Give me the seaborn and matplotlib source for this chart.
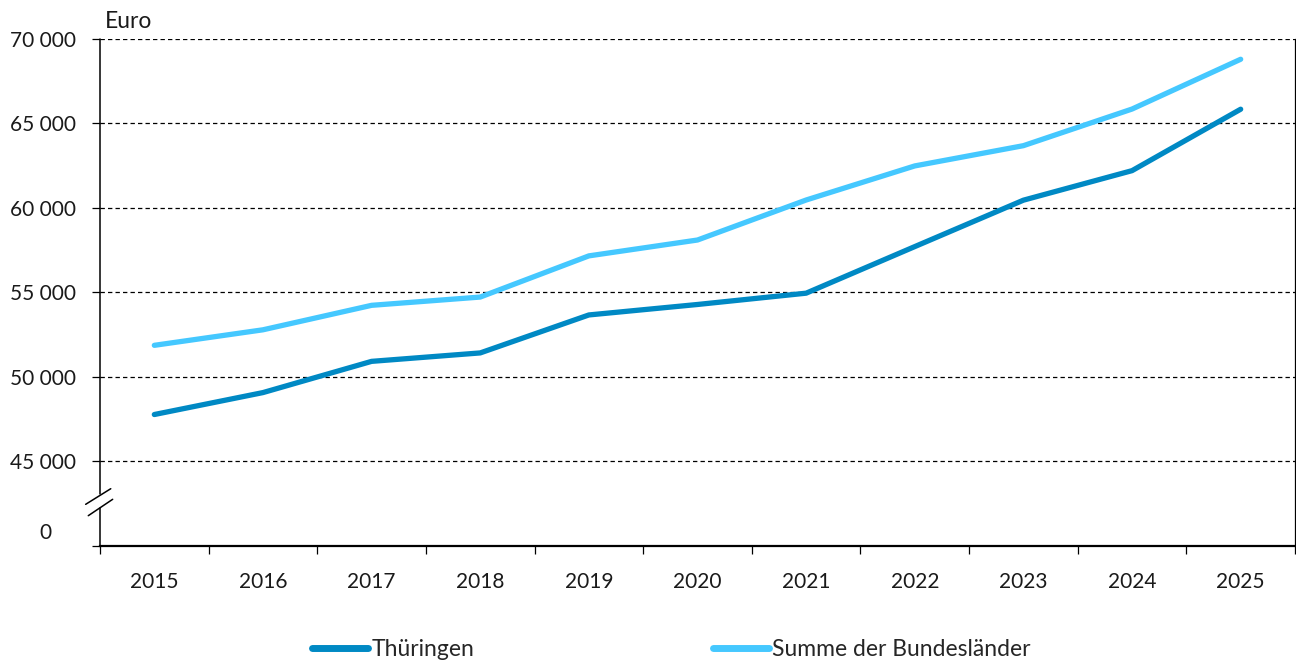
import matplotlib
matplotlib.use("Agg")
import matplotlib.pyplot as plt
from matplotlib.lines import Line2D
from matplotlib.ticker import FixedLocator, NullFormatter
import seaborn as sns
import pandas as pd
import numpy as np

years = [2015, 2016, 2017, 2018, 2019, 2020, 2021, 2022, 2023, 2024, 2025]
thueringen = [47750, 49050, 50900, 51400, 53650, 54270, 54940, 57700, 60450, 62200, 65840]
summe = [51850, 52770, 54220, 54710, 57150, 58090, 60460, 62480, 63680, 65850, 68800]
series_names = ["Thüringen", "Summe der Bundesländer"]
colors = ["#0089C4", "#45C8FF"]
ytick_values = [45000, 50000, 55000, 60000, 65000, 70000]
ytick_labels = ["45 000", "50 000", "55 000", "60 000", "65 000", "70 000"]
unit_label = "Euro"
zero_label = "0"

sns.set_theme(style="white")
plt.rcParams["font.family"] = ["Lato", "DejaVu Sans"]

df = pd.DataFrame({
    "Jahr": years * 2,
    "Wert": thueringen + summe,
    "Reihe": [series_names[0]] * len(years) + [series_names[1]] * len(years),
})

TICK_FS = 15
TEXT_FS = 16.5
TXT_COLOR = "#1a1a1a"

W, H = 1296, 664
fig = plt.figure(figsize=(W / 100, H / 100), dpi=100)
ax = fig.add_axes([100 / W, (H - 546) / H, 1195 / W, (546 - 39) / H])

sns.lineplot(data=df, x="Jahr", y="Wert", hue="Reihe", palette=colors,
             linewidth=3.8, ax=ax, legend=False, solid_capstyle="round")

ymin = 39960
ax.set_ylim(ymin, 70000)
ax.set_xlim(years[0] - 0.5, years[-1] + 0.5)

# grid lines
for v in ytick_values:
    ax.axhline(v, color="black", linewidth=0.9, linestyle=(0, (3.5, 2.5)), zorder=0)

ax.set_yticks([ymin] + ytick_values)
ax.set_yticklabels([""] + ytick_labels, fontsize=TICK_FS, color=TXT_COLOR)
ax.tick_params(axis="y", which="major", length=6, width=0.9, color="black", pad=11, left=True)

ax.xaxis.set_major_locator(FixedLocator(years))
ax.set_xticklabels([str(y) for y in years], fontsize=TICK_FS, color=TXT_COLOR)
ax.tick_params(axis="x", which="major", length=0, pad=19)
ax.xaxis.set_minor_locator(FixedLocator([y - 0.5 for y in years] + [years[-1] + 0.5]))
ax.xaxis.set_minor_formatter(NullFormatter())
ax.tick_params(axis="x", which="minor", length=6, width=0.9, color="black", bottom=True)

ax.set_xlabel("")
ax.set_ylabel("")

ax.spines["top"].set_visible(False)
ax.spines["left"].set_visible(False)
ax.spines["right"].set_color("black")
ax.spines["right"].set_linewidth(0.9)
ax.spines["bottom"].set_color("black")
ax.spines["bottom"].set_linewidth(1.6)

# broken left axis
gap_lo, gap_hi = 0.075, 0.1026
ax.plot([0, 0], [0, gap_lo], transform=ax.transAxes, color="black", lw=1.1, clip_on=False)
ax.plot([0, 0], [gap_hi, 1], transform=ax.transAxes, color="black", lw=1.1, clip_on=False)
ax.plot([-0.0120, 0.0090], [0.0822, 0.1130], transform=ax.transAxes, color="black", lw=1.1, clip_on=False)
ax.plot([-0.0098, 0.0106], [0.0598, 0.0921], transform=ax.transAxes, color="black", lw=1.1, clip_on=False)

# zero label
fig.text(52 / W, 1 - 533 / H, zero_label, ha="right", va="center", fontsize=TICK_FS, color=TXT_COLOR)
# unit label
fig.text(105 / W, 1 - 21 / H, unit_label, ha="left", va="center", fontsize=TEXT_FS, color=TXT_COLOR)

handles = [Line2D([0], [0], color=c, lw=5, solid_capstyle="round") for c in colors]
fig.legend(handles, series_names, loc="center left", bbox_to_anchor=(312 / W, 1 - 650 / H),
           ncol=2, frameon=False, fontsize=TEXT_FS, handlelength=2.45, handletextpad=0.15,
           columnspacing=10.4, borderaxespad=0, borderpad=0)

fig.savefig("out.png", dpi=100)
